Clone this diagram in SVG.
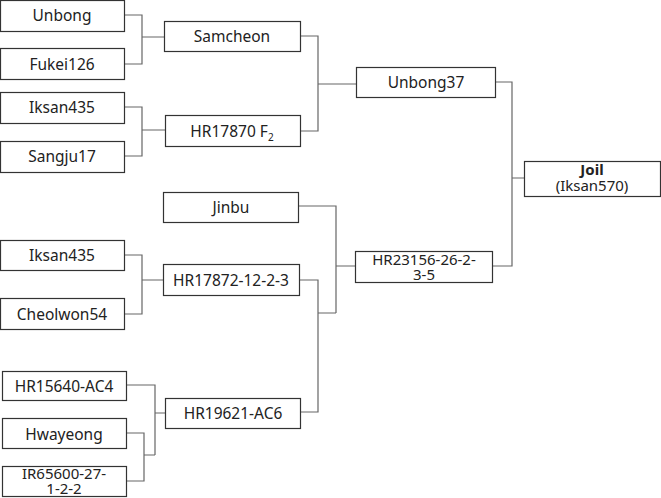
<svg xmlns="http://www.w3.org/2000/svg" width="661" height="498" viewBox="0 0 661 498">
<style>
rect{fill:#fff;stroke:#333;stroke-width:1.2}
text{font-family:"Noto Sans","DejaVu Sans",sans-serif;font-size:15.5px;fill:#222;text-anchor:middle}
text.s{font-size:15px}
#conn path{fill:none;stroke:#666;stroke-width:1.2}
</style>
<rect x="0" y="0" width="661" height="498" style="fill:#fff;stroke:none"/>
<g id="conn">
<path d="M125,15H142V64H125M142,37H164"/>
<path d="M125,107H142V156H125M142,130H165"/>
<path d="M300,36H318V131H300M318,84H356"/>
<path d="M495,82H512V266H492M512,178H524"/>
<path d="M124,255H142V314H124M142,280H163"/>
<path d="M127,385H155V455M127,433H144V481H127M144,455H155M155,413H165"/>
<path d="M299,280H318V412H300M318,313H336"/>
<path d="M298,206H336V313M336,266H355"/>
</g>
<g id="n1"><rect x="0.5" y="0.5" width="124" height="31"/><text x="62" y="21">Unbong</text></g>
<g id="n2"><rect x="0.5" y="48.5" width="124" height="31"/><text x="62" y="70">Fukei126</text></g>
<g id="n3"><rect x="0.5" y="92.5" width="124" height="31"/><text x="62" y="113">Iksan435</text></g>
<g id="n4"><rect x="0.5" y="141.5" width="124" height="31"/><text x="62" y="162">Sangju17</text></g>
<g id="n5"><rect x="164.5" y="21.5" width="136" height="30"/><text x="232" y="42">Samcheon</text></g>
<g id="n6"><rect x="165.5" y="115.5" width="135" height="31"/><text x="232" y="137">HR17870 F<tspan font-size="10" dy="4">2</tspan></text></g>
<g id="n7"><rect x="356.5" y="67.5" width="139" height="30"/><text x="426" y="88">Unbong37</text></g>
<g id="n8"><rect x="524.5" y="161.5" width="136" height="35"/><text class="s" x="592" y="175" font-weight="bold">Joil</text><text class="s" x="592" y="191">(Iksan570)</text></g>
<g id="n9"><rect x="163.5" y="192.5" width="135" height="30"/><text x="231" y="213">Jinbu</text></g>
<g id="n10"><rect x="355.5" y="251.5" width="137" height="31"/><text class="s" x="424" y="265">HR23156-26-2-</text><text class="s" x="424" y="280">3-5</text></g>
<g id="n11"><rect x="0.5" y="240.5" width="124" height="30"/><text x="62" y="261">Iksan435</text></g>
<g id="n12"><rect x="0.5" y="298.5" width="124" height="31"/><text x="62" y="320">Cheolwon54</text></g>
<g id="n13"><rect x="163.5" y="264.5" width="136" height="31"/><text x="231" y="286">HR17872-12-2-3</text></g>
<g id="n14"><rect x="2.5" y="371.5" width="124" height="29"/><text x="64" y="392">HR15640-AC4</text></g>
<g id="n15"><rect x="2.5" y="418.5" width="124" height="30"/><text x="64" y="440">Hwayeong</text></g>
<g id="n16"><rect x="2.5" y="466.5" width="124" height="30"/><text class="s" x="64" y="479">IR65600-27-</text><text class="s" x="64" y="494">1-2-2</text></g>
<g id="n17"><rect x="165.5" y="398.5" width="135" height="30"/><text x="233" y="419">HR19621-AC6</text></g>
</svg>
